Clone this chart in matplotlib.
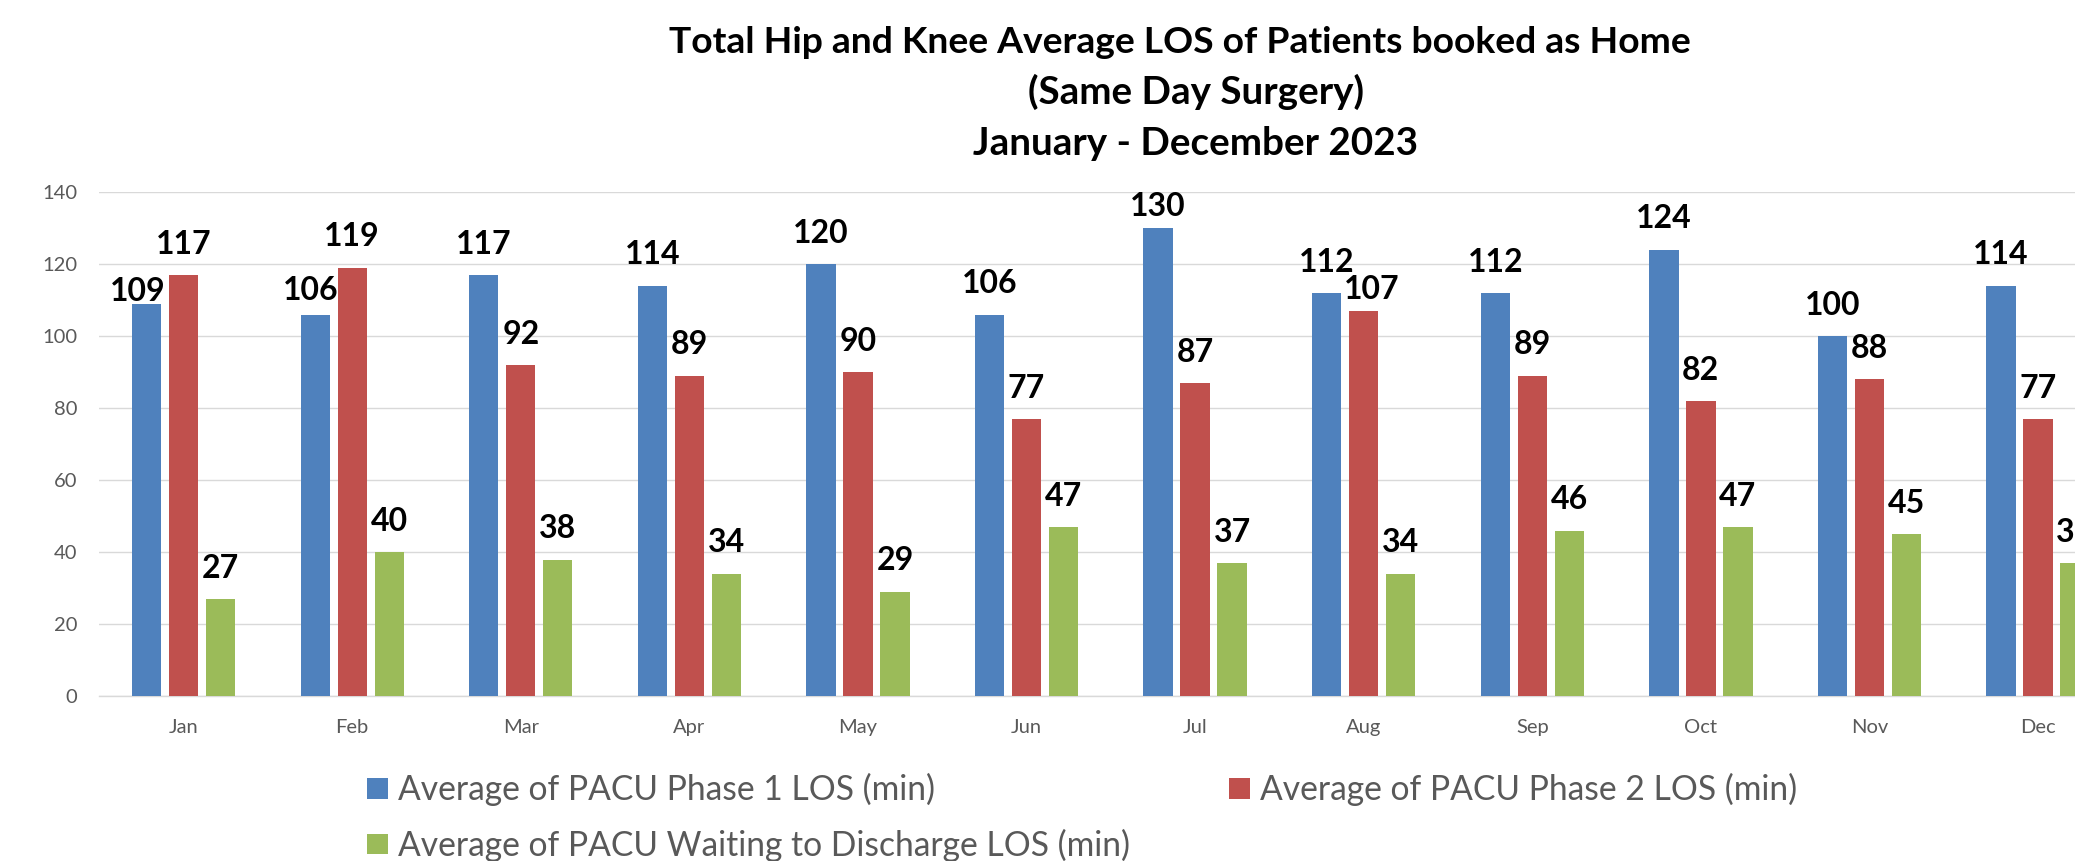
import numpy as np
import matplotlib
matplotlib.use("Agg")
import matplotlib.pyplot as plt
from matplotlib.patches import Patch

months = ["Jan", "Feb", "Mar", "Apr", "May", "Jun", "Jul", "Aug", "Sep", "Oct", "Nov", "Dec"]
phase1 = [109, 106, 117, 114, 120, 106, 130, 112, 112, 124, 100, 114]
phase2 = [117, 119, 92, 89, 90, 77, 87, 107, 89, 82, 88, 77]
waiting = [27, 40, 38, 34, 29, 47, 37, 34, 46, 47, 45, 37]
series_names = ["Average of PACU Phase 1 LOS (min)",
                "Average of PACU Phase 2 LOS (min)",
                "Average of PACU Waiting to Discharge LOS (min)"]
colors = ["#4F81BD", "#C0504D", "#9BBB59"]
yticks = [0, 20, 40, 60, 80, 100, 120, 140]
title_lines = ["Total Hip and Knee Average LOS of Patients booked as Home",
               "(Same Day Surgery)",
               "January - December 2023"]

DPI = 100
W, H = 2075, 861
plt.rcParams['font.family'] = ['Lato', 'DejaVu Sans']
fig = plt.figure(figsize=(W / DPI, H / DPI), dpi=DPI)
ax = fig.add_axes([99.3 / W, 164.7 / H, 2023 / W, 504 / H])

x = np.arange(len(months))
step = 0.2195
bw = 0.174
offsets = [-step, 0, step]
all_series = [phase1, phase2, waiting]

# label nudges (pixels) for labels moved to avoid overlaps: (series, month) -> (dx, gap)
nudges = {(0, 0): (-9, 3), (0, 1): (-5, 15), (1, 7): (8, 12), (0, 6): (0, 12.5)}

px2pt = 72.0 / DPI
for si, (vals, off, col) in enumerate(zip(all_series, offsets, colors)):
    ax.bar(x + off, vals, width=bw, color=col, edgecolor='none', zorder=3)
    for mi, v in enumerate(vals):
        dx, gap = nudges.get((si, mi), (0, 21.6))
        ax.annotate(str(v), (x[mi] + off, v), xytext=(dx * px2pt, gap * px2pt),
                    textcoords='offset points', ha='center', va='baseline',
                    fontsize=23, fontweight='bold', color='black',
                    annotation_clip=False, zorder=5)

ax.set_xlim(-0.5, 11.5)
ax.set_ylim(0, 140)
ax.set_yticks(yticks)
ax.set_xticks(x)
ax.set_xticklabels(months)
ax.grid(axis='y', color='#D9D9D9', linewidth=1.0, zorder=0)
for s in ['top', 'right', 'left']:
    ax.spines[s].set_visible(False)
ax.spines['bottom'].set_color('#D9D9D9')
ax.spines['bottom'].set_linewidth(1.0)
ax.tick_params(axis='both', length=0, colors='#595959', labelsize=14.5)
ax.tick_params(axis='y', pad=16)
ax.tick_params(axis='x', pad=16)

# title (three centred lines)
title_x = [1180, 1196, 1196]
title_y = [53, 104, 155]
title_size = [26.8, 27.8, 27.8]
for t, tx, ty, ts in zip(title_lines, title_x, title_y, title_size):
    fig.text(tx / W, 1 - ty / H, t, ha='center', va='baseline',
             fontsize=ts, fontweight='bold', color='black')

handles = [Patch(facecolor=c, edgecolor='none') for c in colors]
order = [0, 2, 1]
leg = fig.legend([handles[i] for i in order], [series_names[i] for i in order],
                 loc='upper left', bbox_to_anchor=(367 / W, 1 - 773 / H),
                 ncol=2, frameon=False, fontsize=24.2, borderpad=0, borderaxespad=0,
                 handlelength=0.62, handleheight=0.57, handletextpad=0.3,
                 columnspacing=2.95, labelspacing=0.67, labelcolor='#595959')

fig.savefig("out.png", dpi=DPI)
